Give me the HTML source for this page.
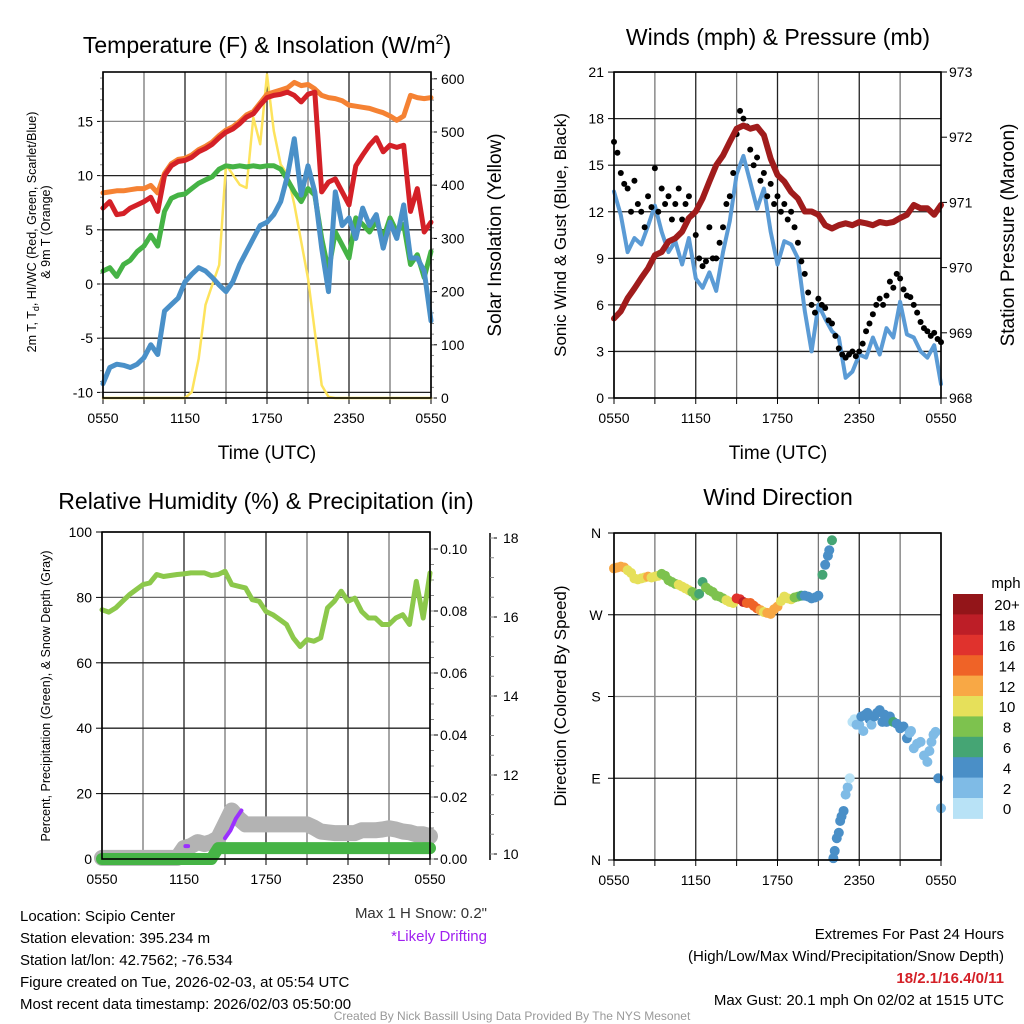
<!DOCTYPE html>
<html><head><meta charset="utf-8">
<style>
html,body{margin:0;padding:0;background:#fff;}
svg{display:block;font-family:"Liberation Sans",sans-serif;}
</style></head>
<body>
<svg id="root" width="1024" height="1024" viewBox="0 0 1024 1024" xmlns="http://www.w3.org/2000/svg">
<rect x="0" y="0" width="1024" height="1024" fill="#fff"/>
<g id="layer"></g>
<!-- titles -->
<text x="267" y="53" font-size="23" text-anchor="middle">Temperature (F) &amp; Insolation (W/m<tspan dy="-9" font-size="14">2</tspan><tspan dy="9">)</tspan></text>
<text x="778" y="45" font-size="23" text-anchor="middle">Winds (mph) &amp; Pressure (mb)</text>
<text x="266" y="509" font-size="23" text-anchor="middle">Relative Humidity (%) &amp; Precipitation (in)</text>
<text x="778" y="505" font-size="23" text-anchor="middle">Wind Direction</text>
<!-- axis titles -->
<text transform="translate(36,232) rotate(-90)" font-size="12.5" text-anchor="middle">2m T, T<tspan dy="3" font-size="9">d</tspan><tspan dy="-3">,  HI/WC (Red, Green, Scarlet/Blue)</tspan></text>
<text transform="translate(50,232) rotate(-90)" font-size="12.5" text-anchor="middle">&amp; 9m T (Orange)</text>
<text transform="translate(501,235) rotate(-90)" font-size="19" text-anchor="middle">Solar Insolation (Yellow)</text>
<text x="267" y="459" font-size="19" text-anchor="middle">Time (UTC)</text>
<text transform="translate(566,235) rotate(-90)" font-size="17" text-anchor="middle">Sonic Wind &amp; Gust (Blue, Black)</text>
<text transform="translate(1014,235) rotate(-90)" font-size="19" text-anchor="middle">Station Pressure (Maroon)</text>
<text x="778" y="459" font-size="19" text-anchor="middle">Time (UTC)</text>
<text transform="translate(50,696) rotate(-90)" font-size="12.5" text-anchor="middle">Percent, Precipitation (Green), &amp; Snow Depth (Gray)</text>
<text transform="translate(566,696) rotate(-90)" font-size="17" text-anchor="middle">Direction (Colored By Speed)</text>
<text x="1006" y="588" font-size="15" text-anchor="middle">mph</text>
<!-- footer -->
<g font-size="15">
<text x="20" y="921">Location: Scipio Center</text>
<text x="20" y="943">Station elevation: 395.234 m</text>
<text x="20" y="965">Station lat/lon: 42.7562; -76.534</text>
<text x="20" y="987">Figure created on Tue, 2026-02-03, at 05:54 UTC</text>
<text x="20" y="1009">Most recent data timestamp: 2026/02/03 05:50:00</text>
</g>
<text x="487" y="918" font-size="15" text-anchor="end" fill="#333">Max 1 H Snow: 0.2"</text>
<text x="487" y="941" font-size="15" text-anchor="end" fill="#a020f0">*Likely Drifting</text>
<g font-size="15" text-anchor="end">
<text x="1004" y="939">Extremes For Past 24 Hours</text>
<text x="1004" y="961">(High/Low/Max Wind/Precipitation/Snow Depth)</text>
<text x="1004" y="983" fill="#d42027" font-weight="bold">18/2.1/16.4/0/11</text>
<text x="1004" y="1005">Max Gust: 20.1 mph On 02/02 at 1515 UTC</text>
</g>
<text x="512" y="1020" font-size="12" text-anchor="middle" fill="#999">Created By Nick Bassill Using Data Provided By The NYS Mesonet</text>
</svg>
<script>
const hours = [0,0.5,1,1.5,2,2.5,3,3.5,4,4.5,5,5.5,6,6.5,7,7.5,8,8.5,9,9.5,10,10.5,11,11.5,12,12.5,13,13.5,14,14.5,15,15.5,16,16.5,17,17.5,18,18.5,19,19.5,20,20.5,21,21.5,22,22.5,23,23.5,24];
const xTickHours = [0,6,12,18,24];
const xTickLabels = ["0550","1150","1750","2350","0550"];
const tempRed = [7.0,7.6,6.4,6.5,7.0,7.3,7.6,8.0,6.7,10.0,10.9,11.3,11.4,11.7,12.2,12.5,12.9,13.5,14.0,14.3,14.8,15.4,15.7,16.5,17.2,17.4,17.5,17.7,17.4,16.8,17.5,17.7,8.5,9.4,9.7,8.5,7.3,10.9,11.9,12.8,13.5,12.2,12.8,12.6,12.8,6.7,8.8,4.8,5.7];
const temp9m = [8.4,8.5,8.6,8.6,8.7,8.8,8.8,9.1,8.4,10.2,11.1,11.5,11.6,11.9,12.4,12.7,13.1,13.7,14.2,14.5,15.0,15.6,15.9,16.7,17.5,17.7,17.9,18.1,18.6,18.3,18.4,18.0,17.4,17.2,17.1,16.9,16.5,16.4,16.3,16.2,16.0,15.8,15.5,15.1,15.5,17.4,17.2,17.1,17.2];
const dewGreen = [1.2,1.5,0.7,1.8,2.2,3.0,3.5,4.5,3.5,6.7,7.9,8.2,8.3,8.8,9.3,9.6,9.9,10.6,10.9,10.8,10.9,10.8,10.9,10.8,10.9,10.9,10.6,9.6,8.5,7.6,8.8,8.2,4.2,1.2,4.8,3.6,2.4,6.1,5.5,4.8,5.8,4.2,6.1,4.8,5.5,1.8,2.7,0.6,3.0];
const wcBlue = [-9.2,-7.7,-7.4,-7.5,-7.7,-7.4,-6.8,-5.6,-6.5,-2.5,-1.9,-1.3,0.2,0.9,1.5,1.2,0.6,-0.1,-0.7,0.2,1.8,3.0,4.2,5.4,5.7,6.4,7.6,10.0,13.4,8.2,10.9,8.5,3.3,-0.7,8.5,5.4,6.1,4.2,7.0,5.4,6.4,3.3,5.7,4.2,7.3,2.4,2.4,1.2,-3.4];
const solar = [0,0,0,0,0,0,0,0,0,0,0,0,0,11,74,175,213,250,439,420,401,395,527,477,608,502,439,420,364,294,225,125,24,2,0,0,0,0,0,0,0,0,0,0,0,0,0,0,0];
const tempTicks = [-10,-5,0,5,10,15];
const solarTicks = [0,100,200,300,400,500,600];

const windSpeed = [13.3,11.8,9.4,10.3,9.9,11.1,12.4,10.7,9.4,10.1,8.6,10.3,7.7,7.1,8.1,6.9,9.4,11.4,14.4,15.6,13.9,12.2,13.5,10.7,8.6,10.1,9.9,9.0,5.6,3.0,6.0,5.1,4.3,3.9,1.3,1.7,2.8,2.6,3.9,2.8,4.5,3.9,6.2,4.1,3.9,3.0,2.6,3.4,0.9];
const pressure = [969.22,969.33,969.53,969.68,969.84,969.99,970.19,970.24,970.40,970.45,970.55,970.76,970.86,971.06,971.32,971.57,971.72,971.93,972.13,972.18,972.13,972.16,972.03,971.67,971.42,971.32,971.16,971.06,970.86,970.86,970.81,970.65,970.60,970.65,970.68,970.65,970.70,970.68,970.65,970.70,970.68,970.70,970.76,970.81,970.96,970.91,970.91,970.81,970.96];
const gustHours = [0,0.25,0.5,0.75,1,1.25,1.5,1.75,2,2.25,2.5,2.75,3,3.25,3.5,3.75,4,4.25,4.5,4.75,5,5.25,5.5,5.75,6,6.25,6.5,6.75,7,7.25,7.5,7.75,8,8.25,8.5,8.75,9,9.25,9.5,9.75,10,10.25,10.5,10.75,11,11.25,11.5,11.75,12,12.25,12.5,12.75,13,13.25,13.5,13.75,14,14.25,14.5,14.75,15,15.25,15.5,15.75,16,16.25,16.5,16.75,17,17.25,17.5,17.75,18,18.25,18.5,18.75,19,19.25,19.5,19.75,20,20.25,20.5,20.75,21,21.25,21.5,21.75,22,22.25,22.5,22.75,23,23.25,23.5,23.75,24];
const gust = [16.5,15.8,14.5,13.8,13.5,12.0,14.0,12.5,12.0,11.0,13.0,12.3,14.8,12.0,13.5,12.5,13.0,11.5,12.5,13.5,11.5,12.5,13.0,11.8,10.5,9.0,8.5,8.8,11.0,9.0,9.0,10.0,11.0,12.5,13.0,14.5,17.0,18.5,18.0,17.5,16.0,15.0,15.5,14.0,14.5,13.0,13.8,12.5,13.0,12.0,12.5,11.5,12.0,11.0,10.0,8.8,8.0,6.8,6.0,5.5,6.4,6.0,5.8,5.0,4.8,4.0,3.2,2.8,2.6,2.8,3.0,2.7,3.0,3.5,4.3,4.8,5.4,6.0,6.4,6.0,6.6,7.5,7.1,8.0,7.7,7.0,6.6,6.5,6.0,5.5,4.9,4.5,4.3,4.0,4.2,3.8,3.6];
const windTicks = [0,3,6,9,12,15,18,21];
const pressTicks = [968,969,970,971,972,973];

const rh = [76.2,75.5,76.8,78.8,80.8,82.4,83.9,84.4,87.0,86.4,86.7,87.0,87.2,87.5,87.5,87.5,86.7,87.0,88.0,83.9,83.4,82.9,79.3,78.8,75.7,74.7,73.2,71.7,67.6,65.0,67.1,66.6,67.6,76.8,78.8,81.9,78.8,79.8,75.7,73.7,73.7,71.7,71.7,73.7,74.7,71.7,84.9,73.7,87.5];
const precip = [0,0,0,0,0,0,0,0,0,0,0,0,0,0,0,0,0,0.0035,0.0035,0.0035,0.0035,0.0035,0.0035,0.0035,0.0035,0.0035,0.0035,0.0035,0.0035,0.0035,0.0035,0.0035,0.0035,0.0035,0.0035,0.0035,0.0035,0.0035,0.0035,0.0035,0.0035,0.0035,0.0035,0.0035,0.0035,0.0035,0.0035,0.0035,0.0035];
const snowDepth = [9.9,9.9,9.9,9.9,9.9,9.9,9.9,9.9,9.9,9.9,9.9,9.9,10.15,10.2,10.3,10.25,10.3,10.4,10.75,11.1,10.9,10.75,10.75,10.75,10.75,10.75,10.75,10.75,10.75,10.75,10.75,10.67,10.57,10.55,10.53,10.53,10.53,10.53,10.6,10.6,10.6,10.62,10.65,10.62,10.57,10.55,10.5,10.5,10.45];
const driftHours = [6.1,6.3,null,9.0,9.4,9.8,10.2];
const driftDepth = [10.2,10.2,null,10.4,10.6,10.9,11.1];
const rhTicks = [0,20,40,60,80,100];
const precipTicks = [0,0.02,0.04,0.06,0.08,0.10];
const snowTicks = [10,12,14,16,18];

const dirHours = [0,0.25,0.5,0.75,1,1.25,1.5,1.75,2,2.25,2.5,2.75,3,3.25,3.5,3.75,4,4.25,4.5,4.75,5,5.25,5.5,5.75,6,6.25,6.5,6.75,7,7.25,7.5,7.75,8,8.25,8.5,8.75,9,9.25,9.5,9.75,10,10.25,10.5,10.75,11,11.25,11.5,11.75,12,12.25,12.5,12.75,13,13.25,13.5,13.75,14,14.25,14.5,14.75,15,15.3,15.5,15.7,15.8,16,16.1,16.2,16.35,16.5,16.6,16.7,16.85,17,17.15,17.3,17.5,17.65,17.8,18,18.15,18.3,18.45,18.6,18.75,18.9,19.1,19.3,19.5,19.7,19.85,20,20.25,20.5,20.75,21,21.25,21.5,21.7,21.8,22,22.25,22.5,22.75,23,23.15,23.3,23.45,23.6,23.8,24];
const dirDeg = [321,322,323,322,319,316,310,309,310,311,312,311,312,313,315,313,308,306,304,303,301,299,297,295,291,293,306,300,297,295,291,290,288,286,284,283,288,287,284,283,283,280,277,275,273,272,271,276,279,285,290,288,287,289,290,291,291,290,288,289,291,314,325,335,341,352,2,10,24,30,43,48,54,72,80,90,152,155,149,149,158,142,160,162,155,149,158,162,165,152,160,152,158,152,150,145,147,134,140,142,123,128,130,115,108,120,130,138,141,90,57];
const dirSpeed = [12,12,12,12,11,10,10,10,10,10,12,10,10,10,8,8,8,8,8,10,10,10,10,8,8,6,6,8,8,8,8,8,8,10,10,10,16,16,18,14,14,14,14,12,10,12,12,12,12,10,10,10,10,8,8,6,4,4,4,4,4,6,4,4,4,6,4,4,4,4,4,4,4,2,2,0,0,0,2,2,4,2,4,4,4,2,4,4,4,4,4,4,4,6,4,4,4,4,2,2,2,2,2,2,2,2,2,2,2,4,2];
const dirTickDeg = [0,90,180,270,360];
const dirTickLabels = ["N","E","S","W","N"];
const speedBins = [0,2,4,6,8,10,12,14,16,18,20];
const speedLabels = ["0","2","4","6","8","10","12","14","16","18","20+"];
const speedColors = ["#b8e2f6","#7fbbe6","#4a8fc7","#45a574","#7dc24e","#e6e05a","#f8a845","#ef6327","#e0322d","#bd1e27","#931519"];

const NS = "http://www.w3.org/2000/svg";
const layer = document.getElementById("layer");
function mk(tag, attrs, parent){ const e=document.createElementNS(NS,tag); for(const k in attrs) e.setAttribute(k,attrs[k]); (parent||layer).appendChild(e); return e; }
function line(x1,y1,x2,y2,stroke,w,parent){ return mk("line",{x1:x1,y1:y1,x2:x2,y2:y2,stroke:stroke,"stroke-width":w},parent); }
function txt(x,y,s,size,anchor,parent){ const t=mk("text",{x:x,y:y,"font-size":size,"text-anchor":anchor},parent); t.textContent=s; return t; }
function pathFrom(xs,ys,X,Y){ let d="",pen=false; for(let i=0;i<xs.length;i++){ if(xs[i]===null||ys[i]===null){pen=false;continue;} d+=(pen?"L":"M")+X(xs[i]).toFixed(1)+","+Y(ys[i]).toFixed(1); pen=true;} return d; }
function series(name,xs,ys,X,Y,color,w,parent){ const p=mk("path",{d:pathFrom(xs,ys,X,Y),fill:"none",stroke:color,"stroke-width":w,"stroke-linejoin":"round","stroke-linecap":"round"},parent);


return p; }

function panelFrame(name,x0,x1,y0,y1,X){
  const g=mk("g",{});
  
  
  for(let h=0;h<=24;h+=3){ const x=X(h); line(x,y0,x,y1,(h%6===0)?"#222":"#777",1.3,g); line(x,y1,x,y1+6,"#000",1,g); }
  xTickHours.forEach((h,i)=>{ const t=txt(X(h),y1+25,xTickLabels[i],14,"middle",g);
    
     });
  return g;
}
function border(x0,x1,y0,y1){ const r=mk("rect",{x:x0,y:y0,width:x1-x0,height:y1-y0,fill:"none",stroke:"#000","stroke-width":1.6});
  
   }

/* ---------- Panel 1: Temperature ---------- */
(function(){
  const x0=103,x1=431,y0=72,y1=398;
  const X=h=>x0+h*(x1-x0)/24, Y=v=>284-v*10.84, YR=w=>398-w*0.532;
  const g=panelFrame("temperature-panel",x0,x1,y0,y1,X);
  tempTicks.forEach(v=>{ const y=Y(v); line(x0,y,x1,y,v===15?"#888":"#222",1.3,g); line(x0-6,y,x0,y,"#000",1,g);
    const t=txt(x0-10,y+5,String(v),14,"end",g);
    
     });
  for(let v=-10;v<=19;v++){ line(x0-3,Y(v),x0,Y(v),"#888",1,g); }
  solarTicks.forEach(w=>{ const y=YR(w); line(x1,y,x1+6,y,"#000",1,g);
    const t=txt(x1+10,y+5,String(w),14,"start",g);
    
     });
  for(let w=0;w<=600;w+=20){ line(x1,YR(w),x1+3,YR(w),"#888",1,g); }
  series("solar-insolation-line",hours,solar,X,YR,"#fde35c",2.5,g);
  series("dewpoint-line",hours,dewGreen,X,Y,"#45b345",5,g);
  series("temp-9m-line",hours,temp9m,X,Y,"#f58233",5,g);
  series("temp-2m-line",hours,tempRed,X,Y,"#d42027",5,g);
  series("windchill-line",hours,wcBlue,X,Y,"#4a90c8",5,g);
  border(x0,x1,y0,y1);
})();

/* ---------- Panel 2: Winds & Pressure ---------- */
(function(){
  const x0=614,x1=941,y0=72,y1=398;
  const X=h=>x0+h*(x1-x0)/24, Y=m=>398-m*15.52, YP=p=>398-(p-968)*65.2;
  const g=panelFrame("winds-panel",x0,x1,y0,y1,X);
  windTicks.forEach(v=>{ const y=Y(v); line(x0,y,x1,y,"#222",1.3,g); line(x0-6,y,x0,y,"#000",1,g);
    const t=txt(x0-10,y+5,String(v),14,"end",g);
    
     });
  pressTicks.forEach(p=>{ const y=YP(p); line(x1,y,x1+6,y,"#000",1,g);
    const t=txt(x1+8,y+5,String(p),14,"start",g);
    
     });
  series("sonic-wind-line",hours,windSpeed,X,Y,"#5b9bd5",4,g);
  gust.forEach((v,i)=>{ const c=mk("circle",{cx:X(gustHours[i]),cy:Y(v),r:3,fill:"#000"},g);
    
     });
  series("pressure-line",hours,pressure,X,YP,"#a01c1c",6,g);
  border(x0,x1,y0,y1);
})();

/* ---------- Panel 3: RH & Precip ---------- */
(function(){
  const x0=102,x1=430,y0=532,y1=859;
  const X=h=>x0+h*(x1-x0)/24, Y=v=>859-v*3.27, YP=p=>859-p*3100, YS=s=>854-(s-10)*39.5;
  const g=panelFrame("humidity-panel",x0,x1,y0,y1,X);
  rhTicks.forEach(v=>{ const y=Y(v); line(x0,y,x1,y,v===80?"#666":"#222",1.3,g); line(x0-6,y,x0,y,"#000",1,g);
    const t=txt(x0-10,y+5,String(v),14,"end",g);
    
     });
  precipTicks.forEach(p=>{ const y=YP(p); line(x1,y,x1+8,y,"#000",1,g);
    const t=txt(x1+10,y+5,p.toFixed(2),14,"start",g);
    
     });
  for(let p=0;p<=0.105;p+=0.005){ line(x1,YP(p),x1+4,YP(p),"#888",1,g); }
  line(490,533,490,860,"#000",1.5,g);
  snowTicks.forEach(s=>{ const y=YS(s); line(490,y,497,y,"#000",1,g);
    const t=txt(503,y+5,String(s),14,"start",g);
    
     });
  for(let s=10;s<=18;s+=0.5){ line(490,YS(s),494,YS(s),"#888",1,g); }
  series("snow-depth-line",hours,snowDepth,X,YS,"#b3b3b3",16,g);
  series("precip-line",hours,precip,X,YP,"#46b446",12,g);
  series("drifting-line",driftHours,driftDepth,X,YS,"#9b30ff",4,g);
  series("rh-line",hours,rh,X,Y,"#8cc84b",5,g);
  border(x0,x1,y0,y1);
})();

/* ---------- Panel 4: Wind direction ---------- */
(function(){
  const x0=614,x1=941,y0=533,y1=860;
  const X=h=>x0+h*(x1-x0)/24, Y=d=>860-d*(y1-y0)/360;
  const g=panelFrame("wind-direction-panel",x0,x1,y0,y1,X);
  dirTickDeg.forEach((d,i)=>{ const y=Y(d); line(x0,y,x1,y,(d===180)?"#888":"#222",1.3,g); line(x0-6,y,x0,y,"#000",1,g);
    const t=txt(x0-18,y+5,dirTickLabels[i],14,"middle",g);
    
     });
  const colorFor=s=>{ let idx=0; speedBins.forEach((b,i)=>{ if(s>=b) idx=i; }); return speedColors[idx]; };
  dirDeg.forEach((d,i)=>{ const c=mk("circle",{cx:X(dirHours[i]),cy:Y(d),r:5,fill:colorFor(dirSpeed[i])},g);
    
     });
  border(x0,x1,y0,y1);
  const cb=mk("g",{});
  
  
  const top=594,bh=20.4;
  for(let i=0;i<speedColors.length;i++){
    const k=speedColors.length-1-i;
    const r=mk("rect",{x:953,y:top+i*bh,width:30,height:bh+0.5,fill:speedColors[k]},cb);
    
    
    const t=txt(1007,top+i*bh+bh/2+6,speedLabels[k],15,"middle",cb);
    
    
  }
})();
</script>
</body></html>
